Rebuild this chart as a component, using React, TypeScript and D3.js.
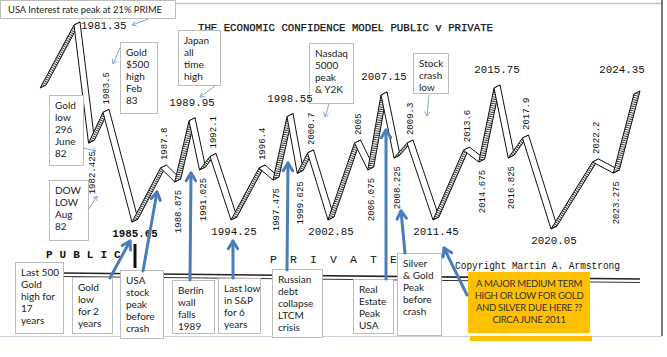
import React from 'react';
import * as d3 from 'd3';

// ---------- DATA ----------
const startYear = 1978.84;
const startLevel = 67.6;
const turnYears = [1981.35, 1982.425, 1983.5, 1985.65, 1987.8, 1988.875, 1989.95, 1991.025, 1992.1, 1994.25, 1996.4, 1997.475, 1998.55, 1999.625, 2000.7, 2002.85, 2005, 2006.075, 2007.15, 2008.225, 2009.3, 2011.45, 2013.6, 2014.675, 2015.75, 2016.825, 2017.9, 2020.05, 2022.2, 2023.275, 2024.35];
const turnLabels = ["1981.35", "1982.425", "1983.5", "1985.65", "1987.8", "1988.875", "1989.95", "1991.025", "1992.1", "1994.25", "1996.4", "1997.475", "1998.55", "1999.625", "2000.7", "2002.85", "2005", "2006.075", "2007.15", "2008.225", "2009.3", "2011.45", "2013.6", "2014.675", "2015.75", "2016.825", "2017.9", "2020.05", "2022.2", "2023.275", "2024.35"];
const turnLevels = [97.6, 41.4, 56, 3.8, 29.5, 22.9, 52, 28.6, 35, 4.8, 29.5, 23.8, 54, 27, 36.7, 4.8, 41.4, 28.6, 64.3, 34.3, 41.4, 4.8, 38, 32.4, 67.6, 34.3, 43.8, 0.5, 32.4, 27.1, 64.8];
const majorYears = [1981.35, 1985.65, 1989.95, 1994.25, 1998.55, 2002.85, 2007.15, 2011.45, 2015.75, 2020.05, 2024.35];

const titleText = "THE ECONOMIC CONFIDENCE MODEL PUBLIC v PRIVATE";
const publicText = "PUBLIC";
const privateText = "PRIVATE";
const copyrightText = "Copyright Martin A. Armstrong";

const noteTexts = [
  ["USA Interest rate peak at 21% PRIME"],
  ["Gold", "$500", "high", "Feb", "83"],
  ["Japan", "all", "time", "high"],
  ["Gold", "low", "296", "June", "82"],
  ["DOW", "LOW", "Aug", "82"],
  ["Nasdaq", "5000", "peak", "& Y2K"],
  ["Stock", "crash", "low"],
  ["Last 500", "Gold", "high for", "17", "years"],
  ["Gold", "low", "for 2", "years"],
  ["USA", "stock", "peak", "before", "crash"],
  ["Berlin", "wall", "falls", "1989"],
  ["Last low", "in S&P", "for 6", "years"],
  ["Russian", "debt", "collapse", "LTCM", "crisis"],
  ["Real", "Estate", "Peak", "USA"],
  ["Silver", "& Gold", "Peak", "before", "crash"],
];
const calloutTexts = ["A MAJOR MEDIUM TERM", "HIGH OR LOW FOR GOLD", "AND SILVER  DUE HERE ??", "CIRCA JUNE 2011"];

// ---------- LAYOUT (positions / styles) ----------
const W = 667, H = 357;
const cycleAxisRange = [74, 132, 189, 231, 287, 328, 381, 433, 494, 551, 634];
const levelRange = [230, 20];
const ribbonOffset = [6, -3];

const noteBoxes = [
  [0, 0, 175, 18],
  [120, 42, 37, 71],
  [178, 30, 42, 55],
  [49, 95, 34, 70],
  [49, 180, 39, 60],
  [309, 43, 44, 60],
  [413, 53, 35, 40],
  [15, 262, 48, 71],
  [72, 277, 40, 56],
  [120, 270, 43, 68],
  [172, 280, 42, 53],
  [218, 278, 42, 55],
  [272, 269, 50, 68],
  [353, 279, 40, 54],
  [397, 253, 44, 82],
];
const calloutBox = [468, 272, 122, 61];
const thinArrows = [
  [148, 19, 132, 25],
  [120, 48, 113, 64],
  [215, 86, 200, 97],
  [83, 148, 96, 151],
  [88, 210, 97, 196],
  [329, 104, 325, 117],
  [429, 95, 427, 116],
];
const thickArrows = [
  [110, 278, 130, 241],
  [143, 271, 157, 192],
  [190, 280, 191, 173],
  [233, 278, 233, 241],
  [287, 270, 288, 163],
  [386, 279, 386, 130],
  [405, 253, 401, 211],
  [467, 295, 444, 248],
];

const MONO = "'Liberation Mono', 'Courier New', monospace";
const SANS = "Lato, 'Open Sans', sans-serif";

function chevron(x1: number, y1: number, x2: number, y2: number, size: number) {
  const a = Math.atan2(y2 - y1, x2 - x1);
  const s = 0.55;
  const p1 = [x2 - size * Math.cos(a - s), y2 - size * Math.sin(a - s)];
  const p2 = [x2 - size * Math.cos(a + s), y2 - size * Math.sin(a + s)];
  return `M${p1[0]},${p1[1]}L${x2},${y2}L${p2[0]},${p2[1]}`;
}

export default function App() {
  const x = d3.scaleLinear().domain(majorYears).range(cycleAxisRange);
  const y = d3.scaleLinear().domain([0, 100]).range(levelRange);

  const series: [number, number][] = [[startYear, startLevel], ...turnYears.map((t, i) => [t, turnLevels[i]] as [number, number])];
  const pts = series.map(([t, v]) => [x(t), y(v)]);
  const [ox, oy] = ribbonOffset;

  const segs = d3.pairs(pts).map(([a, b], i) => {
    const rising = b[1] < a[1];
    const poly = [a, b, [b[0] + ox, b[1] + oy], [a[0] + ox, a[1] + oy]];
    const ang = (Math.atan2(b[1] - a[1], b[0] - a[0]) * 180) / Math.PI;
    return { i, rising, poly, ang };
  });

  const line = d3.line();

  return (
    <svg width={W} height={H} style={{ position: 'absolute', left: 0, top: 0, background: '#fff' }}>
      <defs>
        {segs.filter(s => s.rising).map(s => (
          <pattern key={s.i} id={`hatch-${s.i}`} patternUnits="userSpaceOnUse" width={2.2} height={12}
            patternTransform={`rotate(${s.ang})`}>
            <rect width={2.2} height={12} fill="#fff" />
            <line x1={0.5} y1={0} x2={0.5} y2={12} stroke="#222" strokeWidth={0.9} />
          </pattern>
        ))}
      </defs>
      <rect width={W} height={H} fill="#fff" />

      {/* frame */}
      <line x1={175} y1={3.5} x2={662} y2={3.5} stroke="#b9c6d9" strokeWidth={1.5} />
      <line x1={662} y1={0} x2={662} y2={336} stroke="#333" strokeWidth={1.3} />
      <line x1={0} y1={336.5} x2={662} y2={336.5} stroke="#c9d2de" strokeWidth={1} />

      {/* title */}
      <text x={198} y={31} fontFamily={MONO} fontSize={10.7} fill="#111" stroke="#111" strokeWidth={0.25}>{titleText}</text>

      {/* ribbon */}
      {segs.map(s => (
        <path key={s.i} d={line(s.poly as [number, number][]) + 'Z'}
          fill={s.rising ? `url(#hatch-${s.i})` : '#fff'} stroke="#111" strokeWidth={1} strokeLinejoin="round" />
      ))}

      {/* public / private */}
      {publicText.split('').map((c, k) => (
        <text key={'pu' + k} x={46 + k * 13.6} y={258} fontFamily={MONO} fontSize={11} fontWeight="bold" fill="#111">{c}</text>
      ))}
      {privateText.split('').map((c, k) => (
        <text key={'pr' + k} x={270 + k * 20} y={263} fontFamily={MONO} fontSize={11.5} fill="#111">{c}</text>
      ))}
      <text x={455} y={269} fontFamily={MONO} fontSize={11.5} textLength={165} lengthAdjust="spacingAndGlyphs" fill="#111">{copyrightText}</text>
      <line x1={135} y1={244} x2={135} y2={268} stroke="#111" strokeWidth={3} />
      <line x1={62} y1={273} x2={640} y2={279} stroke="#222" strokeWidth={1.6} />
      <line x1={62} y1={276.5} x2={640} y2={282.5} stroke="#333" strokeWidth={1} />

      {/* note boxes */}
      {noteTexts.map((lines, k) => {
        const [bx, by, bw, bh] = noteBoxes[k];
        return (
          <g key={k}>
            <rect x={bx + 0.5} y={by + 0.5} width={bw} height={bh} fill="#fff" stroke="#bdbdbd" strokeWidth={1} />
            {lines.map((ln, m) => (
              <text key={m} x={k === 0 ? bx + 8 : bx + 6} y={k === 0 ? by + 13 : by + 14 + m * 12}
                fontFamily={SANS} fontSize={10} fill="#222"
                textLength={k === 0 ? 154 : undefined} lengthAdjust="spacingAndGlyphs">{ln}</text>
            ))}
          </g>
        );
      })}

      {/* turning point labels */}
      {turnYears.map((t, j) => {
        const p = pts[j + 1];
        const prev = j === 0 ? -Infinity : turnLevels[j - 1];
        const isPeak = turnLevels[j] > prev;
        const major = majorYears.includes(t);
        const cx = p[0] + ox / 2;
        if (major) {
          if (j === 0) {
            return <text key={j} x={p[0] + 7} y={p[1] + 4} fontFamily={MONO} fontSize={10.8} fill="#111">{turnLabels[j]}</text>;
          }
          if (j === turnYears.length - 1) {
            return <text key={j} x={p[0] - 12} y={p[1] - 21} textAnchor="middle" fontFamily={MONO} fontSize={10.8} fill="#111">{turnLabels[j]}</text>;
          }
          return (
            <text key={j} x={cx} y={isPeak ? p[1] - 15 : p[1] + 15} textAnchor="middle" fontFamily={MONO}
              fontSize={10.8} fill="#111" fontWeight={t === 1985.65 ? 'bold' : 'normal'}>{turnLabels[j]}</text>
          );
        }
        const ty = isPeak ? p[1] - 8 : p[1] + 8;
        return (
          <text key={j} transform={`translate(${cx + 3.2},${ty}) rotate(-90)`} textAnchor={isPeak ? 'start' : 'end'}
            fontFamily={MONO} fontSize={9} fill="#111">{turnLabels[j]}</text>
        );
      })}

      {/* orange callout */}
      <rect x={calloutBox[0]} y={calloutBox[1]} width={calloutBox[2]} height={calloutBox[3]} fill="#ffc000" />
      <rect x={calloutBox[0] + 2} y={calloutBox[1] + calloutBox[3] + 3} width={calloutBox[2]} height={5} fill="#ffc000" />
      {calloutTexts.map((ln, m) => (
        <text key={m} x={calloutBox[0] + calloutBox[2] / 2} y={calloutBox[1] + 15 + m * 12} textAnchor="middle"
          fontFamily={SANS} fontSize={9.5} letterSpacing={-0.3} fill="#333">{ln}</text>
      ))}

      {/* arrows */}
      {thinArrows.map(([x1, y1, x2, y2], k) => (
        <g key={k} stroke="#7fa7d9" strokeWidth={1} fill="none">
          <line x1={x1} y1={y1} x2={x2} y2={y2} />
          <path d={chevron(x1, y1, x2, y2, 5)} />
        </g>
      ))}
      {thickArrows.map(([x1, y1, x2, y2], k) => (
        <g key={k} stroke="#4a7ebb" strokeWidth={3} fill="none" strokeLinecap="round" strokeLinejoin="round">
          <line x1={x1} y1={y1} x2={x2} y2={y2} />
          <path d={chevron(x1, y1, x2, y2, 9)} />
        </g>
      ))}
    </svg>
  );
}
